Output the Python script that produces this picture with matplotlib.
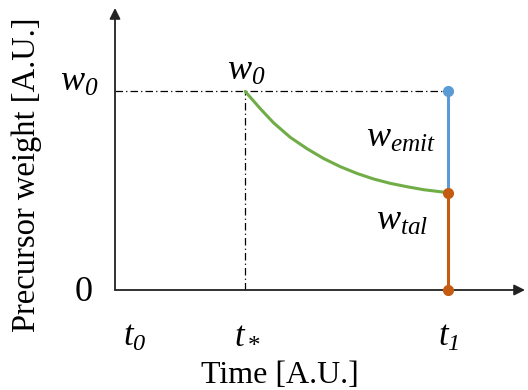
import matplotlib
matplotlib.use("Agg")
import matplotlib.pyplot as plt

plt.rcParams["font.family"] = "Liberation Serif"
plt.rcParams["mathtext.fontset"] = "custom"
plt.rcParams["mathtext.it"] = "Liberation Serif:italic"
plt.rcParams["mathtext.rm"] = "Liberation Serif:italic"

# time axis (A.U.) and weight axis (A.U.)
t_ticks = [0.15, 1.0, 2.56]
t_labels = [r"$t_0$", "*", r"$t_1$"]   # t* is built from two pieces below
w_ticks = [0.0, 1.0]
w_labels = ["0", r"$w_0$"]

# decaying weight curve between t* and t1
curve_t = [1.00, 1.115, 1.218, 1.346, 1.474, 1.603, 1.731, 1.859, 1.987, 2.115, 2.244, 2.372, 2.56]
curve_w = [1.00, 0.914, 0.842, 0.769, 0.712, 0.662, 0.621, 0.587, 0.559, 0.537, 0.520, 0.505, 0.49]

t_star, t1 = 1.0, 2.56
w0, w_end = 1.0, 0.49
xmax, ymax = 3.15, 1.42

W, H = 528, 390
def px(x, y):
    # pixel position (from top-left) -> figure fraction
    return x / W, 1 - y / H

fig = plt.figure(figsize=(W / 100, H / 100), dpi=100)
ax = fig.add_axes([115 / W, (H - 290) / H, 410 / W, 282 / H])
ax.set_xlim(0, xmax)
ax.set_ylim(0, ymax)
ax.axis("off")

# axes with arrow heads
arrow = dict(arrowstyle="-|>", color="#222222", lw=1.3, mutation_scale=16, shrinkA=0, shrinkB=0)
ax.annotate("", xy=(xmax, 0), xytext=(0, 0), arrowprops=arrow, annotation_clip=False)
ax.annotate("", xy=(0, ymax), xytext=(0, 0), arrowprops=arrow, annotation_clip=False)

# guide lines
dd = (6, 2.5, 1, 2.5)
ax.plot([0, t1], [w0, w0], color="black", lw=0.9, dashes=dd)
ax.plot([t_star, t_star], [0, w0], color="black", lw=0.9, dashes=dd)

ax.plot(curve_t, curve_w, color="#70AD47", lw=2.2, solid_capstyle="round")
ax.plot([t1, t1], [w_end, w0], color="#5B9BD5", lw=2.2)
ax.plot([t1, t1], [0, w_end], color="#C55A11", lw=2.2)
ax.plot([t1], [w0], "o", color="#5B9BD5", ms=7, clip_on=False, zorder=5)
ax.plot([t1, t1], [0, w_end], "o", color="#C55A11", ms=7, ls="none", clip_on=False, zorder=5)

# labels on the curve
fs = 26
fig.text(*px(227, 80), r"$w_0$", fontsize=fs, ha="left", va="baseline")
fig.text(*px(366, 147), r"$w_{emit}$", fontsize=fs, ha="left", va="baseline")
fig.text(*px(376, 230), r"$w_{tal}$", fontsize=fs, ha="left", va="baseline")

# tick labels
to_fig = fig.transFigure.inverted()
for t, lab in zip(t_ticks, t_labels):
    x_fig = to_fig.transform(ax.transData.transform((t, 0)))[0]
    if lab == "*":
        fig.text(x_fig + 1 / W, px(0, 346)[1], r"$t$", fontsize=25, ha="right", va="baseline")
        fig.text(x_fig + 3 / W, px(0, 353)[1], "*", fontsize=18, ha="left", va="baseline")
    else:
        fig.text(x_fig, px(0, 346)[1], lab, fontsize=25, ha="center", va="baseline")
yt_base = {0.0: 301, 1.0: 91}
yt_right = {0.0: 93, 1.0: 98}
for w, lab in zip(w_ticks, w_labels):
    fig.text(*px(yt_right[w], yt_base[w]), lab, fontsize=26, ha="right", va="baseline")

fig.text(*px(280, 383), "Time [A.U.]", fontsize=23, ha="center", va="baseline")
fig.text(*px(27, 175), "Precursor weight [A.U.]", fontsize=23.5, ha="center", va="center",
         rotation=90)

fig.savefig("out.png", dpi=100)
